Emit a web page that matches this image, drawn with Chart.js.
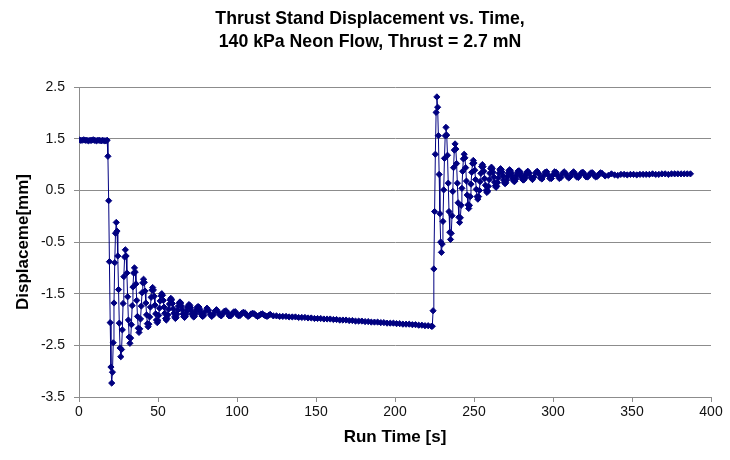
<!DOCTYPE html>
<html>
<head>
<meta charset="utf-8">
<title>Thrust Stand Displacement vs. Time</title>
<script src="https://cdn.jsdelivr.net/npm/chart.js@4.4.1/dist/chart.umd.min.js"></script>
<style>
    html, body { margin: 0; padding: 0; background: #ffffff; }
    #wrap { width: 730px; height: 460px; }
</style>
</head>
<body>
<div id="wrap"><canvas id="thrustChart" width="730" height="460"></canvas></div>
<script>
// =========================================
// DATA
// =========================================
const titleLines = ["Thrust Stand Displacement vs. Time,", "140 kPa Neon Flow, Thrust = 2.7 mN"];
const xTitle = "Run Time [s]";
const yTitle = "Displaceme[mm]";

const xTicks = [0, 50, 100, 150, 200, 250, 300, 350, 400];
const yTicks = [-3.5, -2.5, -1.5, -0.5, 0.5, 1.5, 2.5];

// at rest before the flow is switched on: t = 0 .. 17 s, every 1 s
const restBefore = [1.48, 1.47, 1.47, 1.48, 1.47, 1.47, 1.46, 1.47, 1.47, 1.48, 1.47, 1.46, 1.47, 1.47, 1.46, 1.47, 1.46, 1.46];

// first ringing after the step: from t = 17.82 s, every 0.48 s
const ringDown = [
    1.47,
    1.16, 0.30, -0.88, -2.06, -2.92, -3.23,
    -3.02, -2.45, -1.68, -0.90, -0.33, -0.12,
    -0.29, -0.77, -1.42, -2.07, -2.55, -2.72,
    -2.58, -2.20, -1.69, -1.17, -0.79, -0.65,
    -0.77, -1.10, -1.56, -2.01, -2.34, -2.46,
    -2.36, -2.10, -1.73, -1.37, -1.10, -1.00,
    -1.08, -1.31, -1.63, -1.94, -2.17, -2.25,
    -2.18, -1.99, -1.74, -1.48, -1.29, -1.22,
    -1.28, -1.45, -1.68, -1.91, -2.08, -2.14,
    -2.09, -1.95, -1.76, -1.57, -1.43, -1.38,
    -1.43, -1.55, -1.72, -1.89, -2.01, -2.06,
    -2.02, -1.92, -1.78, -1.64, -1.54, -1.50,
    -1.53, -1.63, -1.76, -1.88, -1.98, -2.01,
    -1.98, -1.91, -1.80, -1.70, -1.62, -1.59,
    -1.62, -1.69, -1.79, -1.88, -1.95, -1.98,
    -1.96, -1.90, -1.82, -1.74, -1.68, -1.66,
    -1.68, -1.74, -1.81, -1.89, -1.94, -1.96,
    -1.94, -1.90, -1.84, -1.77, -1.73, -1.71,
    -1.73, -1.77, -1.83, -1.89, -1.93, -1.95,
    -1.94, -1.90, -1.85, -1.80, -1.76, -1.75,
    -1.76, -1.80, -1.85, -1.89, -1.93, -1.94
];

// small ripple left over: t = 79 .. 121 s, every 1 s
const rippleDown = [
    -1.92, -1.84, -1.78, -1.82, -1.90, -1.94, -1.91, -1.84, -1.81, -1.85,
    -1.91, -1.93, -1.89, -1.84, -1.83, -1.87, -1.93, -1.93, -1.89, -1.85,
    -1.85, -1.90, -1.93, -1.92, -1.88, -1.86, -1.87, -1.91, -1.94, -1.92,
    -1.89, -1.88, -1.89, -1.92, -1.94, -1.92, -1.90, -1.89, -1.91, -1.93,
    -1.94, -1.92, -1.90
];

// slow drift with flow on: t = 123 .. 223 s, every 2 s
const driftOn = [
    -1.93, -1.93, -1.94, -1.94, -1.94, -1.95, -1.95, -1.95, -1.96, -1.96,
    -1.96, -1.97, -1.97, -1.98, -1.98, -1.98, -1.99, -1.99, -1.99, -2.00,
    -2.00, -2.01, -2.01, -2.01, -2.02, -2.02, -2.03, -2.03, -2.03, -2.04,
    -2.04, -2.05, -2.05, -2.05, -2.06, -2.06, -2.07, -2.07, -2.07, -2.08,
    -2.08, -2.09, -2.09, -2.09, -2.10, -2.10, -2.11, -2.11, -2.12, -2.12,
    -2.13
];

// ringing after the flow is switched off: from t = 223.62 s, every 0.48 s
const ringUp = [
    -2.13,
    -1.83, -1.02, 0.09, 1.20, 2.01, 2.31,
    2.11, 1.56, 0.81, 0.05, -0.50, -0.70,
    -0.54, -0.10, 0.51, 1.12, 1.56, 1.72,
    1.57, 1.18, 0.64, 0.09, -0.31, -0.45,
    -0.33, 0.01, 0.48, 0.94, 1.28, 1.40,
    1.30, 1.02, 0.64, 0.26, -0.02, -0.12,
    -0.03, 0.21, 0.54, 0.87, 1.11, 1.20,
    1.13, 0.94, 0.68, 0.41, 0.22, 0.15,
    0.21, 0.38, 0.62, 0.85, 1.02, 1.08,
    1.03, 0.89, 0.71, 0.52, 0.38, 0.33,
    0.38, 0.50, 0.67, 0.83, 0.96, 1.00,
    0.96, 0.87, 0.73, 0.60, 0.50, 0.46,
    0.49, 0.58, 0.71, 0.83, 0.92, 0.95,
    0.92, 0.85, 0.76, 0.66, 0.59, 0.56,
    0.58, 0.65, 0.74, 0.83, 0.90, 0.92,
    0.90, 0.85, 0.78, 0.70, 0.65, 0.63,
    0.65, 0.70, 0.77, 0.83, 0.88, 0.90,
    0.88, 0.84, 0.79, 0.73, 0.69, 0.67,
    0.68, 0.72, 0.78, 0.83, 0.87, 0.88,
    0.87, 0.84, 0.79, 0.75, 0.71, 0.70,
    0.71, 0.74, 0.79, 0.83, 0.86, 0.87
];

// ripple after switch off: t = 285 .. 331 s, every 1 s
const rippleUp = [
    0.83, 0.75, 0.71, 0.76, 0.84, 0.87, 0.82, 0.74, 0.72, 0.78,
    0.85, 0.86, 0.80, 0.73, 0.73, 0.80, 0.86, 0.85, 0.78, 0.73,
    0.75, 0.82, 0.86, 0.83, 0.77, 0.74, 0.77, 0.83, 0.86, 0.82,
    0.76, 0.75, 0.79, 0.84, 0.85, 0.81, 0.76, 0.76, 0.80, 0.84,
    0.84, 0.79, 0.76, 0.77, 0.81, 0.84, 0.83
];

// settled again: t = 333 .. 387 s, every 2 s
const restAfter = [
    0.78, 0.79, 0.82, 0.80, 0.79, 0.81, 0.81, 0.80, 0.81, 0.81,
    0.80, 0.81, 0.81, 0.81, 0.81, 0.82, 0.81, 0.81, 0.82, 0.82,
    0.81, 0.82, 0.82, 0.82, 0.82, 0.82, 0.82, 0.82
];

// sampling of each piece: [first time, time step, values]
const segments = [
    [0, 1, restBefore],
    [17.82, 0.48, ringDown],
    [79, 1, rippleDown],
    [123, 2, driftOn],
    [223.62, 0.48, ringUp],
    [285, 1, rippleUp],
    [333, 2, restAfter]
];

document.addEventListener("DOMContentLoaded", () => {

    // -----------------------------------------
    // 1. BUILD THE (time, displacement) POINTS
    // -----------------------------------------
    const points = [];
    segments.forEach(([t0, dt, values]) => {
        values.forEach((v, i) => {
            points.push({ x: Math.round((t0 + i * dt) * 100) / 100, y: v });
        });
    });

    // -----------------------------------------
    // 2. CHART
    // -----------------------------------------
    const navy = "#000080";
    const gridGrey = "#8c8c8c";
    const fontFamily = "'Liberation Sans', Arial, sans-serif";

    new Chart(document.getElementById("thrustChart"), {
        type: "line",
        data: {
            datasets: [{
                label: "Displacement",
                data: points,
                borderColor: navy,
                backgroundColor: navy,
                borderWidth: 1,
                tension: 0,
                pointStyle: "rectRot",
                pointRadius: 3.1,
                pointBorderWidth: 1,
                pointBackgroundColor: navy,
                pointBorderColor: navy
            }]
        },
        options: {
            responsive: false,
            devicePixelRatio: 1,
            animation: false,
            layout: { padding: { left: 10, right: 0, top: 0, bottom: 0 } },
            plugins: {
                legend: { display: false },
                tooltip: { enabled: false },
                title: {
                    display: true,
                    text: titleLines,
                    color: "#000",
                    font: { family: fontFamily, size: 17.7, weight: "bold", lineHeight: 1.33 },
                    padding: { top: 7, bottom: 33 }
                }
            },
            scales: {
                x: {
                    type: "linear",
                    min: 0,
                    max: 400,
                    afterBuildTicks: axis => { axis.ticks = xTicks.map(v => ({ value: v })); },
                    afterFit: scale => { scale.height = 63; },
                    ticks: {
                        color: "#111",
                        font: { family: fontFamily, size: 14 },
                        padding: 2,
                        maxRotation: 0,
                        autoSkip: false,
                        callback: v => String(v)
                    },
                    grid: { drawOnChartArea: false, drawTicks: true, tickLength: 5, color: gridGrey },
                    border: { display: true, color: gridGrey, width: 1 },
                    title: {
                        display: true,
                        text: xTitle,
                        color: "#000",
                        font: { family: fontFamily, size: 17, weight: "bold" },
                        padding: { top: 0, bottom: 12 }
                    }
                },
                y: {
                    type: "linear",
                    min: -3.5,
                    max: 2.5,
                    afterBuildTicks: axis => { axis.ticks = yTicks.map(v => ({ value: v })); },
                    afterFit: scale => { scale.width = 69; },
                    ticks: {
                        color: "#111",
                        font: { family: fontFamily, size: 14 },
                        padding: 9,
                        callback: v => v.toFixed(1)
                    },
                    grid: { drawOnChartArea: true, drawTicks: true, tickLength: 5, color: gridGrey },
                    border: { display: true, color: gridGrey, width: 1 },
                    title: {
                        display: true,
                        text: yTitle,
                        color: "#000",
                        font: { family: fontFamily, size: 17, weight: "bold" },
                        padding: { top: 3, bottom: 0 }
                    }
                },
                // empty strip on the right, keeps the plot edge at the same place
                spacer: {
                    type: "linear",
                    position: "right",
                    display: true,
                    afterFit: scale => { scale.width = 19; },
                    ticks: { display: false },
                    grid: { display: false, drawTicks: false },
                    border: { display: false }
                }
            }
        }
    });
});
</script>
</body>
</html>
